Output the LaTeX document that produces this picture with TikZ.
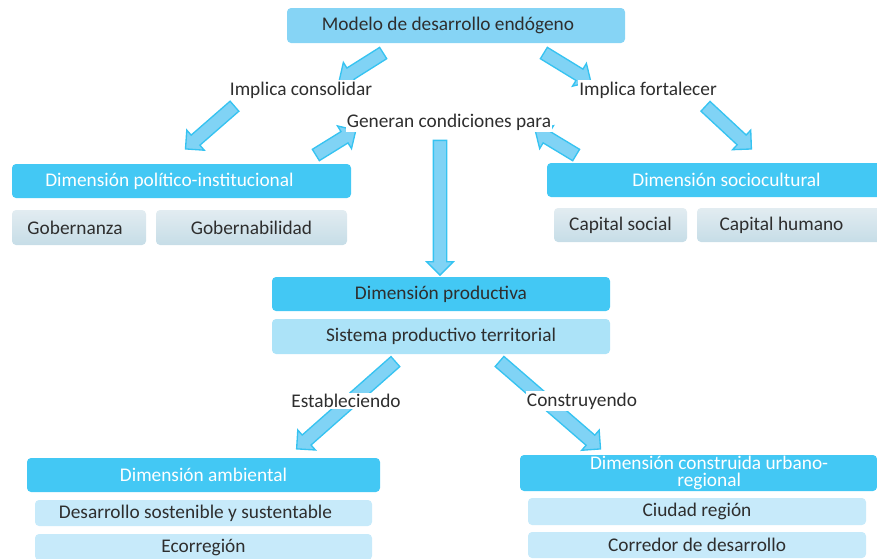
\documentclass[tikz,border=0pt]{standalone}
\usepackage{fontspec}
\setmainfont{Carlito}
\usetikzlibrary{shapes.arrows,calc,backgrounds}
\definecolor{TopClr}{HTML}{86D4F5}
\definecolor{DimClr}{HTML}{43C8F4}
\definecolor{SubClr}{HTML}{C7EAFA}
\definecolor{SysClr}{HTML}{ACE3F8}
\definecolor{GrayTop}{HTML}{E2ECF1}
\definecolor{GrayBot}{HTML}{C6DDE7}
\definecolor{ArrowFill}{HTML}{80D3F5}
\definecolor{ArrowLine}{HTML}{36C3F1}
\definecolor{TxtClr}{HTML}{2E2E2E}

\newcommand\BlockArrow[2]{%
  \path let \p1=($(#2)-(#1)$), \n1={veclen(\x1,\y1)}, \n2={atan2(\y1,\x1)} in
    node[blockarrow, minimum height=\n1, rotate=\n2] at ($(#1)!0.5!(#2)$) {};}

\begin{document}
\begin{tikzpicture}[x=0.75pt,y=-0.75pt,
  box/.style={rounded corners=3pt,inner sep=0pt,align=center,text=TxtClr,
    font=\fontsize{14.5}{13}\selectfont},
  sz/.style 2 args={minimum width=#1*0.75pt,minimum height=#2*0.75pt},
  topbox/.style={box,fill=TopClr},
  dimbox/.style={box,fill=DimClr,text=white},
  subbox/.style={box,fill=SubClr},
  sysbox/.style={box,fill=SysClr},
  graybox/.style={box,top color=GrayTop,bottom color=GrayBot},
  lbl/.style={fill=white,inner sep=1pt,text=TxtClr,font=\fontsize{14.5}{13}\selectfont},
  blockarrow/.style={single arrow,draw=ArrowLine,fill=ArrowFill,line width=1pt,
    inner xsep=0pt,inner ysep=4.5pt,single arrow head extend=5pt}]
\useasboundingbox (0,0) rectangle (877,558);
\clip (0,0) rectangle (877,558);

\node[topbox,sz={338}{35}] (modelo) at (456,25.5) {Modelo de desarrollo endógeno\hspace*{12pt}};
\node[lbl] (consol) at (301,90) {Implica consolidar};
\node[lbl] (fort) at (648,90) {Implica fortalecer};
\node[lbl] (gen) at (449,122) {Generan condiciones para};

\node[dimbox,sz={339}{34}] (pol) at (181.5,181) {Dimensión político-institucional\hspace*{18pt}};
\node[graybox,sz={134}{35}] (gobza) at (79,227.5) {Gobernanza\hspace*{6pt}};
\node[graybox,sz={191}{35}] (gobil) at (251.5,227.5) {Gobernabilidad};

\node[dimbox,sz={335}{34}] (socio) at (714.5,180) {\hspace*{18pt}Dimensión sociocultural};
\node[graybox,sz={133}{34}] (capsoc) at (620.5,225) {Capital social};
\node[graybox,sz={185}{34}] (caphum) at (789.5,225) {Capital humano\hspace*{12pt}};

\node[box,fill=DimClr,sz={338}{34}] (prod) at (441,294) {Dimensión productiva};
\node[sysbox,sz={338}{35}] (sist) at (441,336.5) {Sistema productivo territorial};

\node[lbl] (estab) at (346,401) {Estableciendo};
\node[lbl] (constr) at (582,401) {Construyendo};

\node[dimbox,sz={353}{34}] (amb) at (203.5,475) {Dimensión ambiental};
\node[subbox,sz={337}{26}] (des) at (203.5,513) {Desarrollo sostenible y sustentable\hspace*{12pt}};
\node[subbox,sz={337}{26}] (eco) at (203.5,547) {Ecorregión};

\node[dimbox,sz={357}{36}] (urb) at (698.5,473) {\hspace*{16pt}Dimensión construida urbano-\\\hspace*{16pt}regional};
\node[subbox,sz={338}{27}] (ciu) at (697,511.5) {Ciudad región};
\node[subbox,sz={338}{26}] (corr) at (697,545) {Corredor de desarrollo};

\begin{scope}[on background layer]
\coordinate (a1) at ([shift={(-70,8)}]modelo.south);
\coordinate (b1) at ([shift={(41,-11)}]consol.center);
\coordinate (a2) at ([shift={(85,8)}]modelo.south);
\coordinate (b2) at ([shift={(-60,-10)}]fort.center);
\coordinate (a3) at ([shift={(-64,14)}]consol.center);
\coordinate (b3) at ([shift={(6.5,-17)}]pol.north);
\coordinate (a4) at ([shift={(55,14)}]fort.center);
\coordinate (b4) at ([shift={(34.5,-16)}]socio.north);
\coordinate (a5) at ([shift={(131.5,-7)}]pol.north);
\coordinate (b5) at ([shift={(-96,10)}]gen.center);
\coordinate (a6) at ([shift={(-135.5,-6)}]socio.north);
\coordinate (b6) at ([shift={(89,10)}]gen.center);
\coordinate (a7) at ([shift={(-9,15)}]gen.center);
\coordinate (b7) at ([shift={(-1,-5)}]prod.north);
\coordinate (a8) at ([shift={(-43,5)}]sist.south);
\coordinate (b8) at ([shift={(95.5,-11)}]amb.north);
\coordinate (a9) at ([shift={(56,5)}]sist.south);
\coordinate (b9) at ([shift={(-100.5,-8)}]urb.north);
\foreach \i in {1,...,9}{\BlockArrow{a\i}{b\i}}
\end{scope}

\end{tikzpicture}
\end{document}
